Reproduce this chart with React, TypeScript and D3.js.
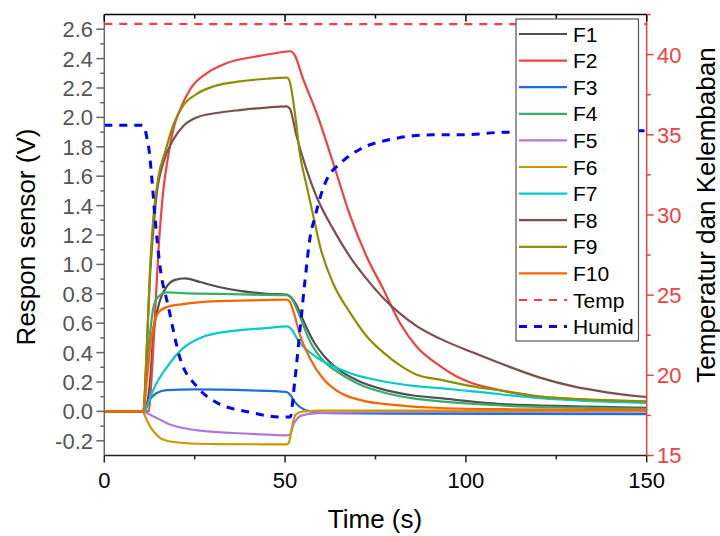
import React from 'react';
import * as d3 from 'd3';

type P = [number, number];

// ---------- data (time s, value) ----------
const seriesNames = ['F1', 'F2', 'F3', 'F4', 'F5', 'F6', 'F7', 'F8', 'F9', 'F10'];
const seriesColors = ['#515151', '#F14040', '#1A6FDF', '#37AD6B', '#B177DE', '#CC9900', '#00CBCC', '#7D4E4E', '#8E8E00', '#FB6501'];

const F1: P[] = [[0,0],[10.8,0],[11.8,0.05],[12.6,0.19],[13.6,0.53],[14.9,0.71],[17.3,0.85],[19.6,0.895],[22.3,0.905],[26.5,0.88],[31.1,0.85],[37.5,0.82],[44.9,0.80],[50.4,0.795],[51.5,0.78],[53,0.73],[55,0.62],[58,0.47],[61,0.37],[65,0.28],[70,0.21],[77,0.15],[85,0.11],[92.8,0.09],[110,0.05],[130,0.035],[150,0.025]];
const F2: P[] = [[0,0],[12.3,0],[13,0.2],[14,0.65],[15,1.1],[16.3,1.5],[17.7,1.74],[19.1,1.92],[20.9,2.05],[23.7,2.19],[28.3,2.30],[33.9,2.37],[42.1,2.415],[48,2.44],[51.5,2.45],[52.5,2.43],[55,2.26],[58.7,2.03],[63.3,1.69],[68,1.33],[72.6,1.05],[77.2,0.83],[81.8,0.60],[86.4,0.44],[92.8,0.31],[98.3,0.227],[102,0.19],[106.6,0.16],[115.8,0.114],[129.6,0.084],[150,0.065]];
const F3: P[] = [[0,0],[11,0],[12.6,0.08],[14.5,0.125],[17.3,0.145],[25,0.15],[40.3,0.143],[50.4,0.132],[51.5,0.11],[52.5,0.07],[54.1,0.03],[57,0.0],[62,-0.012],[80,-0.016],[150,-0.018]];
const F4: P[] = [[0,0],[10.8,0],[11.7,0.31],[12.6,0.52],[13.6,0.71],[14.9,0.78],[17.3,0.81],[21.8,0.805],[31.1,0.80],[40.3,0.794],[50.4,0.79],[52,0.76],[54,0.65],[57,0.47],[60,0.36],[65,0.26],[70,0.19],[77,0.13],[85,0.09],[92.8,0.068],[110,0.04],[130,0.026],[150,0.018]];
const F5: P[] = [[0,0],[11,0],[11.7,-0.01],[13.6,-0.034],[15.4,-0.056],[17.3,-0.08],[21.8,-0.113],[26.5,-0.131],[35.7,-0.147],[44.9,-0.158],[50.4,-0.163],[51.3,-0.16],[52.3,-0.09],[53.5,-0.045],[55,-0.025],[58,-0.014],[65,-0.008],[80,-0.004],[150,-0.002]];
const F6: P[] = [[0,0],[10.6,0],[11.3,-0.034],[12.6,-0.10],[14,-0.147],[15.4,-0.18],[17.3,-0.2],[21.8,-0.215],[31.1,-0.222],[50.4,-0.224],[51,-0.215],[51.6,-0.15],[52.3,-0.06],[53,-0.02],[55,0.0],[60,0.005],[150,0.005]];
const F7: P[] = [[0,0],[11,0],[11.7,0.03],[13.6,0.15],[17.3,0.3],[21.8,0.43],[26.5,0.50],[35.7,0.548],[44.9,0.567],[50.4,0.578],[51.3,0.57],[54,0.47],[58,0.38],[63,0.31],[68,0.26],[77,0.205],[86,0.172],[92.8,0.158],[102,0.136],[120.5,0.09],[150,0.057]];
const F8: P[] = [[0,0],[10.8,0],[11.7,0.4],[12.6,0.9],[13.6,1.25],[14.5,1.48],[16.3,1.69],[19.1,1.85],[21.8,1.94],[25.6,2.0],[31.1,2.03],[37.5,2.05],[44.9,2.067],[50.4,2.075],[51.3,2.06],[53.2,1.87],[56,1.64],[58.7,1.46],[63.3,1.24],[68,1.05],[72.6,0.90],[77.2,0.77],[81.8,0.665],[86.4,0.58],[92.8,0.495],[102,0.40],[111.3,0.31],[120.5,0.23],[129.7,0.17],[138.9,0.13],[150,0.098]];
const F9: P[] = [[0,0],[10.8,0],[11.7,0.4],[12.6,0.95],[13.6,1.33],[15,1.6],[17,1.78],[19.1,1.95],[21.8,2.08],[25.6,2.16],[30.1,2.21],[37.5,2.245],[44.9,2.263],[50.5,2.27],[51.2,2.25],[52.7,2.03],[54.1,1.75],[56,1.53],[57.8,1.33],[59.7,1.12],[63.3,0.87],[68,0.67],[72.6,0.51],[77.2,0.40],[82,0.31],[86.4,0.25],[92.8,0.216],[102,0.17],[111.3,0.136],[120.5,0.10],[135,0.08],[150,0.068]];
const F10: P[] = [[0,0],[10.8,0],[11.7,0.19],[12.6,0.42],[13.6,0.58],[14.9,0.67],[17.3,0.71],[21.8,0.73],[31.1,0.75],[40.3,0.755],[50.4,0.76],[51.2,0.75],[52.3,0.68],[54.1,0.52],[56.9,0.36],[60.6,0.22],[65,0.13],[72,0.07],[80,0.045],[92.8,0.023],[110,0.015],[150,0.01]];
const sensorData: P[][] = [F1, F2, F3, F4, F5, F6, F7, F8, F9, F10];

const Temp: P[] = [[0,41.92],[50,41.9],[100,41.9],[150,41.9]];
const Humid: P[] = [[0,35.6],[10.5,35.6],[11.3,35.3],[11.7,34.9],[12.4,34.0],[13.1,32.4],[14,29.9],[15.4,26.8],[17.7,24.3],[20.9,21.1],[25.6,19.3],[31.1,18.3],[40.3,17.7],[48.6,17.4],[51.4,17.4],[52.7,19.7],[54.1,22.8],[55.5,25.9],[56.9,28.6],[58.3,29.9],[59.7,31.1],[61.5,32.2],[65.2,33.2],[70.7,34.1],[79,34.7],[91,35.0],[100,35.0],[109.5,35.15],[150,35.25]];
const envNames = ['Temp', 'Humid'];
const envColors = ['#F14040', '#0000FF'];

// ---------- ticks ----------
const xMajor = [0, 50, 100, 150];
const xMinor = [25, 75, 125];
const yLeftMajor = [-0.2, 0, 0.2, 0.4, 0.6, 0.8, 1.0, 1.2, 1.4, 1.6, 1.8, 2.0, 2.2, 2.4, 2.6];
const yLeftMinor = [-0.1, 0.1, 0.3, 0.5, 0.7, 0.9, 1.1, 1.3, 1.5, 1.7, 1.9, 2.1, 2.3, 2.5];
const yRightMajor = [15, 20, 25, 30, 35, 40];
const yRightMinor = [17.5, 22.5, 27.5, 32.5, 37.5, 42.5];

const FONT = "'Liberation Sans', Arial, sans-serif";

export default function App() {
  const L = 104.3, R = 646.7, T = 14.5, B = 455.5;
  const x = d3.scaleLinear().domain([0, 150]).range([L, R]);
  const yL = d3.scaleLinear().domain([-0.3, 2.7]).range([B, T]);
  const yR = d3.scaleLinear().domain([15, 42.5]).range([B, T]);
  const lineL = d3.line<P>().x(d => x(d[0])).y(d => yL(d[1])).curve(d3.curveMonotoneX);
  const lineR = d3.line<P>().x(d => x(d[0])).y(d => yR(d[1])).curve(d3.curveMonotoneX);

  const legX = 516, legY = 19, legW = 122.5, legH = 322;
  const rowH = 26.6, row0 = 34;

  return (
    <svg width={720} height={536} style={{ position: 'fixed', left: 0, top: 0, background: '#fff' }} fontFamily={FONT}>
      <rect x={0} y={0} width={720} height={536} fill="#fff" />
      {/* sensor lines */}
      {sensorData.map((d, i) => (
        <path key={seriesNames[i]} d={lineL(d) || ''} fill="none" stroke={seriesColors[i]} strokeWidth={2.2} strokeLinejoin="round" />
      ))}
      <path d={lineR(Temp) || ''} fill="none" stroke={envColors[0]} strokeWidth={2.2} strokeDasharray="8,7" />
      <path d={lineR(Humid) || ''} fill="none" stroke={envColors[1]} strokeWidth={3} strokeDasharray="8,7" />

      {/* frame */}
      <line x1={L} x2={R} y1={T} y2={T} stroke="#000" strokeWidth={1.5} />
      <line x1={L} x2={R} y1={B} y2={B} stroke="#222" strokeWidth={1.5} />
      <line x1={L} x2={L} y1={T} y2={B} stroke="#666" strokeWidth={1.5} />
      <line x1={R} x2={R} y1={T} y2={B} stroke="#F14040" strokeWidth={1.5} />

      {/* bottom ticks */}
      {xMajor.map(v => (
        <g key={'xb' + v}>
          <line x1={x(v)} x2={x(v)} y1={B} y2={B + 7} stroke="#222" strokeWidth={1.5} />
          <line x1={x(v)} x2={x(v)} y1={T} y2={T + 7} stroke="#000" strokeWidth={1.5} />
          <text x={x(v)} y={488} textAnchor="middle" fontSize={22} fill="#000">{v}</text>
        </g>
      ))}
      {xMinor.map(v => (
        <g key={'xm' + v}>
          <line x1={x(v)} x2={x(v)} y1={B} y2={B + 4} stroke="#222" strokeWidth={1.5} />
          <line x1={x(v)} x2={x(v)} y1={T} y2={T + 4} stroke="#000" strokeWidth={1.5} />
        </g>
      ))}

      {/* left ticks */}
      {yLeftMajor.map(v => (
        <g key={'yl' + v}>
          <line x1={L - 8} x2={L} y1={yL(v)} y2={yL(v)} stroke="#666" strokeWidth={1.5} />
          <text x={93} y={yL(v)} dy="0.36em" textAnchor="end" fontSize={22} fill="#555">{v.toFixed(1)}</text>
        </g>
      ))}
      {yLeftMinor.map(v => (
        <line key={'ylm' + v} x1={L - 4} x2={L} y1={yL(v)} y2={yL(v)} stroke="#666" strokeWidth={1.5} />
      ))}

      {/* right ticks */}
      {yRightMajor.map(v => (
        <g key={'yr' + v}>
          <line x1={R} x2={R + 7} y1={yR(v)} y2={yR(v)} stroke="#F14040" strokeWidth={1.5} />
          <text x={657} y={yR(v)} dy="0.36em" textAnchor="start" fontSize={22} fill="#F14040">{v}</text>
        </g>
      ))}
      {yRightMinor.map(v => (
        <line key={'yrm' + v} x1={R} x2={R + 4} y1={yR(v)} y2={yR(v)} stroke="#F14040" strokeWidth={1.5} />
      ))}

      {/* titles */}
      <text x={375} y={528} textAnchor="middle" fontSize={26} fill="#000">Time (s)</text>
      <text transform="translate(35,237) rotate(-90)" textAnchor="middle" fontSize={26} fill="#000">Respon sensor (V)</text>
      <text transform="translate(715,215) rotate(-90)" textAnchor="middle" fontSize={26} fill="#000">Temperatur dan Kelembaban</text>

      {/* legend */}
      <rect x={legX} y={legY} width={legW} height={legH} fill="#fff" stroke="#555" strokeWidth={1.2} />
      {seriesNames.map((n, i) => (
        <g key={'lg' + n}>
          <line x1={519} x2={567} y1={row0 + i * rowH} y2={row0 + i * rowH} stroke={seriesColors[i]} strokeWidth={2.2} />
          <text x={573} y={row0 + i * rowH} dy="0.36em" fontSize={21} fill="#000">{n}</text>
        </g>
      ))}
      {envNames.map((n, j) => {
        const yy = row0 + (10 + j) * rowH;
        return (
          <g key={'lge' + n}>
            <line x1={519} x2={567} y1={yy} y2={yy} stroke={envColors[j]} strokeWidth={j === 0 ? 2.2 : 3} strokeDasharray="8,7" />
            <text x={573} y={yy} dy="0.36em" fontSize={21} fill="#000">{n}</text>
          </g>
        );
      })}
    </svg>
  );
}
